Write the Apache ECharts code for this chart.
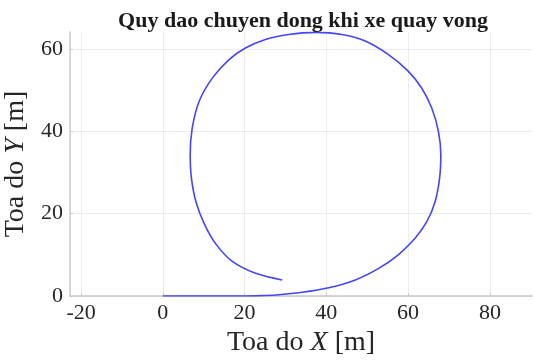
<!DOCTYPE html>
<html><head><meta charset="utf-8">
<script src="https://cdn.jsdelivr.net/npm/echarts@6/dist/echarts.min.js"></script>
<style>html,body{margin:0;padding:0;background:#fff}#c{width:534px;height:360px}</style>
</head><body><div id="c"></div>
<script>
const titleText = 'Quy dao chuyen dong khi xe quay vong';
const xTicks = [-20, 0, 20, 40, 60, 80];
const yTicks = [0, 20, 40, 60];
const trajX = [0, 10, 20.2, 24.0, 27.6, 34.1, 40.6, 47.1, 52.8, 57.6, 61.7, 64.6, 66.6, 67.7, 68.0, 67.4, 65.8, 63.3, 60.0, 55.2, 49.5, 43.8, 37.3, 30.8, 25.1, 20.2, 16.2, 12.1, 8.9, 7.2, 6.7, 7.0, 8.1, 10.2, 13.0, 17.0, 22.7, 29.2];
const trajY = [0, 0, 0, 0.08, 0.25, 0.9, 2.0, 3.9, 6.7, 10.0, 14.0, 18.1, 22.9, 28.6, 34.3, 40.0, 45.6, 50.5, 54.6, 58.6, 61.9, 63.5, 64.0, 63.5, 62.3, 60.2, 57.4, 52.9, 47.3, 40.8, 34.3, 28.6, 22.9, 17.4, 12.6, 8.4, 5.5, 3.9];
const data = trajX.map((x, i) => [x, trajY[i]]);
const serif = '"Liberation Serif","DejaVu Serif",serif';
const nameRich = { i: { fontFamily: serif, fontStyle: 'italic', fontSize: 28, color: '#262626' } };
const chart = echarts.init(document.getElementById('c'));
chart.setOption({
  animation: false,
  title: { text: titleText, left: 298, textAlign: 'center', top: 5,
    textStyle: { fontFamily: serif, fontWeight: 'bold', fontSize: 22, color: '#1a1a1a' } },
  grid: { left: 70, right: 2, top: 32, bottom: 64, containLabel: false, outerBoundsMode: 'none' },
  xAxis: {
    type: 'value', min: -22.7, max: 90.3,
    name: 'Toa do {i|X} [m]', nameLocation: 'middle', nameGap: 33,
    nameTextStyle: { fontFamily: serif, fontSize: 28, color: '#262626', rich: nameRich },
    axisLine: { show: true, onZero: false, lineStyle: { color: '#c8c8c8', width: 1.5 } },
    axisTick: { show: true, inside: true, length: 3, customValues: xTicks, lineStyle: { color: '#c8c8c8' } },
    axisLabel: { customValues: xTicks, fontFamily: serif, fontSize: 22, color: '#262626', margin: 6 },
    splitLine: { show: true, lineStyle: { color: '#ececec', width: 1 } }
  },
  yAxis: {
    type: 'value', min: 0, max: 64.1,
    name: 'Toa do {i|Y} [m]', nameLocation: 'middle', nameGap: 28,
    nameTextStyle: { fontFamily: serif, fontSize: 28, color: '#262626', rich: nameRich },
    axisLine: { show: true, onZero: false, lineStyle: { color: '#c8c8c8', width: 1.5 } },
    axisTick: { show: true, inside: true, length: 3, customValues: yTicks, lineStyle: { color: '#c8c8c8' } },
    axisLabel: { customValues: yTicks, fontFamily: serif, fontSize: 22, color: '#262626', margin: 7 },
    splitLine: { show: true, lineStyle: { color: '#ececec', width: 1 } }
  },
  series: [{
    type: 'line', data: data, smooth: 0.33, showSymbol: false, symbol: 'none',
    lineStyle: { color: '#4545ff', width: 1.6 }, clip: true
  }]
});
</script></body></html>
